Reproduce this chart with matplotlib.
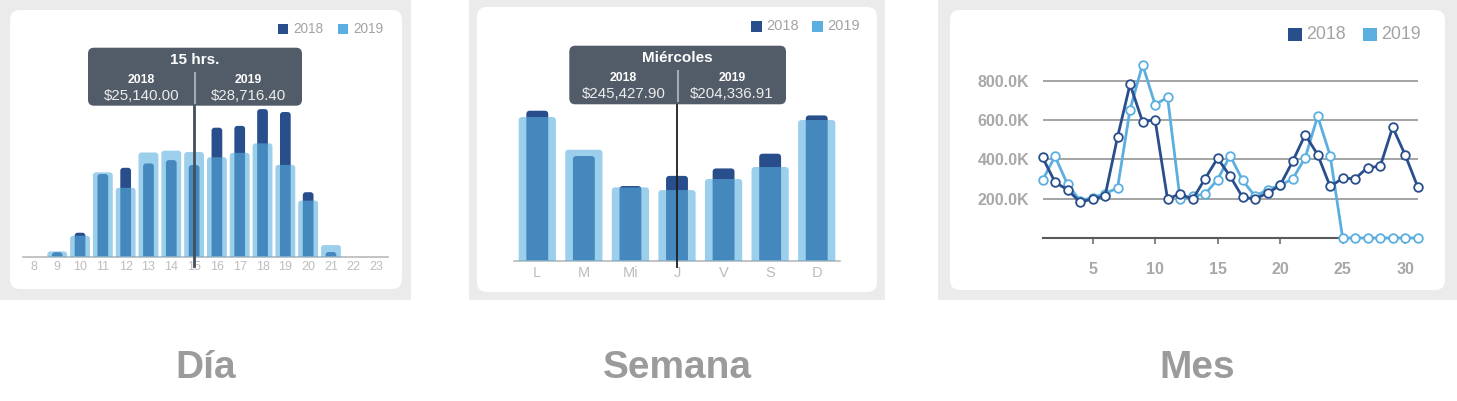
import matplotlib
matplotlib.use("Agg")
import matplotlib.pyplot as plt
from matplotlib.patches import FancyBboxPatch, Rectangle

plt.rcParams['font.family'] = ['Liberation Sans', 'DejaVu Sans']

W, H = 1457, 401

DARK = '#284e8c'
LIGHT = '#5aafe0'
PANEL_BG = '#ebebeb'
TIP_BG = '#525c69'

# ---- data ----
hours = list(range(8, 24))
day_2018 = [0, 1230, 6580, 22700, 24400, 25600, 26500, 25140, 35400, 35900, 40500, 39700, 17700, 1290, 0, 0]
day_2019 = [0, 1450, 5760, 23150, 18900, 28600, 29100, 28716, 27300, 28500, 31100, 25200, 15400, 3200, 0, 0]

weekdays = ['L', 'M', 'Mi', 'J', 'V', 'S', 'D']
week_2018 = [434000, 302900, 216100, 245428, 267000, 309600, 420400]
week_2019 = [415700, 321100, 212100, 204337, 236400, 271100, 407000]

month_days = list(range(1, 32))
month_2018 = [410000, 284000, 245000, 183000, 198000, 213000, 513000, 781000, 591000, 601000,
              196000, 226000, 196000, 302000, 405000, 314000, 207000, 199000, 228000, 268000,
              389000, 525000, 424000, 262000, 303000, 302000, 358000, 364000, 563000, 422000, 260000]
month_2019 = [293000, 415000, 273000, 190000, 205000, 226000, 254000, 653000, 881000, 678000,
              715000, 198000, 212000, 224000, 297000, 419000, 293000, 212000, 246000, 268000,
              300000, 407000, 619000, 419000, 0, 0, 0, 0, 0, 0, 0]

panel_titles = ['Día', 'Semana', 'Mes']


def frac(x0, y0, x1, y1):
    return [x0 / W, 1 - y1 / H, (x1 - x0) / W, (y1 - y0) / H]


def round_bars(ax, bars, r_px):
    # swap the square bars for ones with rounded tops (bottom corners get clipped)
    (ax0, ay0), (ax1_, ay1) = ax.transData.transform([(0, 0), (1, 1)])
    ux = 1 / (ax1_ - ax0)
    uy = 1 / (ay1 - ay0)
    for b in list(bars):
        x, w, h = b.get_x(), b.get_width(), b.get_height()
        if h > 0:
            ax.add_patch(FancyBboxPatch((x, -r_px * uy), w, h + r_px * uy,
                                        boxstyle=f'round,pad=0,rounding_size={r_px * ux}',
                                        mutation_aspect=uy / ux,
                                        fc=b.get_facecolor(), ec='none',
                                        zorder=b.get_zorder()))
        b.remove()


fig = plt.figure(figsize=(W / 100, H / 100), dpi=100)

# background: gray panels + white cards
bg = fig.add_axes([0, 0, 1, 1], zorder=0)
bg.set_xlim(0, W)
bg.set_ylim(H, 0)
bg.axis('off')

panels = [(0, 411), (469, 885), (938, 1457)]
cards = [(10, 10, 402, 289), (477, 7, 877, 292), (950, 10, 1445, 290)]
for (p0, p1), (c0, r0, c1, r1), title in zip(panels, cards, panel_titles):
    bg.add_patch(Rectangle((p0, 0), p1 - p0, 300, color=PANEL_BG, lw=0))
    bg.add_patch(FancyBboxPatch((c0, r0), c1 - c0, r1 - r0,
                                boxstyle='round,pad=0,rounding_size=10',
                                fc='white', ec='none'))
    bg.text((p0 + p1) / 2, 368, title, ha='center', va='center',
            fontsize=28, fontweight='bold', color='#9b9b9b')

# overlay for legends and tooltips
ov = fig.add_axes([0, 0, 1, 1], zorder=5)
ov.set_xlim(0, W)
ov.set_ylim(H, 0)
ov.axis('off')
ov.patch.set_alpha(0)


def legend(x_dark, x_light, yc, sq, txt_gap, size):
    for x, col, lab in [(x_dark, DARK, '2018'), (x_light, LIGHT, '2019')]:
        ov.add_patch(Rectangle((x, yc - sq / 2), sq, sq, color=col, lw=0))
        ov.text(x + sq + txt_gap, yc, lab, ha='left', va='center',
                fontsize=size, color='#a3a3a3')


def tooltip(x0, y0, x1, y1, title, left_val, right_val):
    ov.add_patch(FancyBboxPatch((x0, y0), x1 - x0, y1 - y0,
                                boxstyle='round,pad=0,rounding_size=6',
                                fc=TIP_BG, ec='none'))
    xm = (x0 + x1) / 2
    ov.text(xm, y0 + 12, title, ha='center', va='center', fontsize=11,
            fontweight='bold', color='white')
    ov.plot([xm, xm], [y0 + 25, y1 - 3], color='#a4aab2', lw=1.5)
    for xc, yr, val in [((x0 + xm) / 2, '2018', left_val), ((xm + x1) / 2, '2019', right_val)]:
        ov.text(xc, y0 + 32, yr, ha='center', va='center', fontsize=8.8,
                fontweight='bold', color='white')
        ov.text(xc, y0 + 48, val, ha='center', va='center', fontsize=10.8,
                color='#ececec')


# ---- Día ----
ax1 = fig.add_axes(frac(23, 100, 388, 256.7), zorder=2)
ax1.patch.set_alpha(0)
ax1.set_xlim(7.5, 23.5)
ax1.set_ylim(0, 43000)
b18 = ax1.bar(hours, day_2018, width=0.47, color=DARK, zorder=2)
b19 = ax1.bar(hours, day_2019, width=0.87, color=LIGHT, alpha=0.6, zorder=3)
round_bars(ax1, b18, 3)
round_bars(ax1, b19, 3)
ax1.set_xticks(hours)
ax1.set_xticklabels([str(h) for h in hours])
ax1.set_yticks([])
for s in ['top', 'left', 'right']:
    ax1.spines[s].set_visible(False)
ax1.spines['bottom'].set_color('#b9b9b9')
ax1.spines['bottom'].set_linewidth(1.2)
ax1.tick_params(axis='x', length=0, pad=3, labelsize=9, labelcolor='#bcbcbc')
ax1.plot([15, 15], [-0.06, 1.0], transform=ax1.get_xaxis_transform(),
         color='#454e59', lw=2, clip_on=False, zorder=6)

legend(278, 338, 29, 10, 5, 9.8)
tooltip(88, 47.7, 302, 105.7, '15 hrs.', '$25,140.00', '$28,716.40')

# ---- Semana ----
ax2 = fig.add_axes(frac(514, 100, 840, 260.7), zorder=2)
ax2.patch.set_alpha(0)
xw = list(range(len(weekdays)))
ax2.set_xlim(-0.5, 6.5)
ax2.set_ylim(0, 465000)
w18 = ax2.bar(xw, week_2018, width=0.47, color=DARK, zorder=2)
w19 = ax2.bar(xw, week_2019, width=0.8, color=LIGHT, alpha=0.6, zorder=3)
round_bars(ax2, w18, 3.5)
round_bars(ax2, w19, 3.5)
ax2.set_xticks(xw)
ax2.set_xticklabels(weekdays)
ax2.set_yticks([])
for s in ['top', 'left', 'right']:
    ax2.spines[s].set_visible(False)
ax2.spines['bottom'].set_color('#b9b9b9')
ax2.spines['bottom'].set_linewidth(1.2)
ax2.tick_params(axis='x', length=0, pad=3.6, labelsize=10.5, labelcolor='#bcbcbc')
ax2.plot([3, 3], [-0.04, 1.0], transform=ax2.get_xaxis_transform(),
         color='#1e1e1e', lw=1.3, clip_on=False, zorder=6)

legend(750.7, 811.7, 26.2, 11, 4.5, 10.5)
tooltip(569.3, 45.7, 786, 104.3, 'Miércoles', '$245,427.90', '$204,336.91')

# ---- Mes ----
ax3 = fig.add_axes(frac(1042.5, 55, 1417.7, 238), zorder=2)
ax3.patch.set_alpha(0)
ax3.plot(month_days, month_2019, color=LIGHT, lw=2, marker='o', ms=6.2,
         mfc='white', mec=LIGHT, mew=1.3, clip_on=False, zorder=3)
ax3.plot(month_days, month_2018, color=DARK, lw=2, marker='o', ms=6.2,
         mfc='white', mec=DARK, mew=1.3, clip_on=False, zorder=4)
ax3.set_xlim(1, 31)
ax3.set_ylim(0, 930000)
ax3.set_xticks([5, 10, 15, 20, 25, 30])
ax3.set_yticks([200000, 400000, 600000, 800000])
ax3.set_yticklabels([f'{v / 1000:.1f}K' for v in [200000, 400000, 600000, 800000]])
ax3.yaxis.grid(True, color='#9d9d9d', lw=1.3, zorder=1)
ax3.set_axisbelow(True)
for s in ['top', 'left', 'right']:
    ax3.spines[s].set_visible(False)
ax3.spines['bottom'].set_color('#5a5a5a')
ax3.spines['bottom'].set_linewidth(1.5)
ax3.tick_params(axis='x', length=4.3, width=1.2, color='#707070', pad=13,
                labelsize=11.5, labelcolor='#a8a8a8')
ax3.tick_params(axis='y', length=0, pad=9.7, labelsize=11.5, labelcolor='#a8a8a8')
for lab in ax3.get_xticklabels() + ax3.get_yticklabels():
    lab.set_fontweight('bold')

legend(1288, 1363, 34.5, 13.5, 5, 12.8)

fig.savefig('out.png', dpi=100)
